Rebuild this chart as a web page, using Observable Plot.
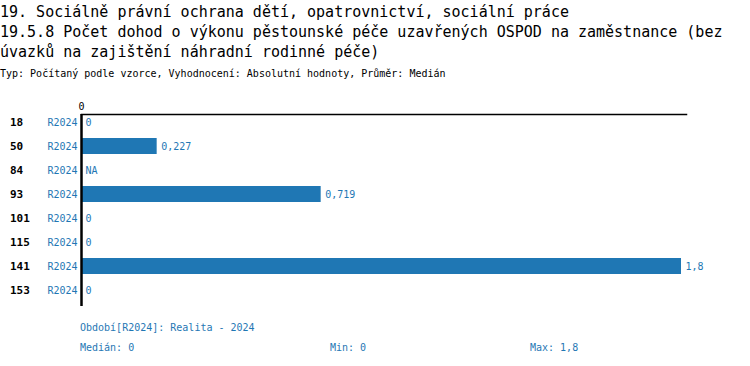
<!DOCTYPE html>
<html>
<head>
<meta charset="utf-8">
<script src="https://cdn.jsdelivr.net/npm/d3@7"></script>
<script src="https://cdn.jsdelivr.net/npm/@observablehq/plot@0.6"></script>
<style>
  body { margin: 0; background: #fff; font-family: "DejaVu Sans Mono", monospace; width: 750px; }
  #header { height: 84px; position: relative; }
  .t { font-size: 15px; line-height: 20px; color: #000; }
  #title { padding-top: 2px; }
  #sub { font-size: 10px; line-height: 14px; margin-top: 5px; color: #000; }
  #chart svg { display: block; overflow: visible; }
  #footer { padding-left: 80px; margin-top: 9px; font-size: 10px; line-height: 20px; color: #1f77b4; }
  #footer span { display: inline-block; }
</style>
</head>
<body>
<div id="header">
  <div id="title" class="t"></div>
  <div id="sub"></div>
</div>
<div id="chart"></div>
<div id="footer">
  <div id="period"></div>
  <div><span id="med" style="width:250px"></span><span id="min" style="width:200px"></span><span id="max"></span></div>
</div>
<script>
const titleLines = [
  "19. Sociálně právní ochrana dětí, opatrovnictví, sociální práce",
  "19.5.8 Počet dohod o výkonu pěstounské péče uzavřených OSPOD na zaměstnance (bez úvazků na zajištění náhradní rodinné péče)"
];
const subtitle = "Typ: Počítaný podle vzorce, Vyhodnocení: Absolutní hodnoty, Průměr: Medián";
const categories = ["18", "50", "84", "93", "101", "115", "141", "153"];
const periodLabel = "R2024";
const values = [0, 0.227, null, 0.719, 0, 0, 1.8, 0];
const xTicks = [0];
const periodText = "Období[R2024]: Realita - 2024";
const statMedian = "Medián: 0";
const statMin = "Min: 0";
const statMax = "Max: 1,8";

document.getElementById("title").innerHTML = titleLines.map(s => `<div>${s}</div>`).join("");
document.getElementById("sub").textContent = subtitle;
document.getElementById("period").textContent = periodText;
document.getElementById("med").textContent = statMedian;
document.getElementById("min").textContent = statMin;
document.getElementById("max").textContent = statMax;

const data = categories.map((c, i) => ({cat: c, period: periodLabel, value: values[i]}));
const fmt = v => v == null ? "NA" : String(v).replace(".", ",");
const blue = "#1f77b4";

const chart = Plot.plot({
  width: 750,
  height: 225,
  marginTop: 30,
  marginBottom: 3,
  marginLeft: 81,
  marginRight: 64,
  style: {fontFamily: "DejaVu Sans Mono, monospace", fontSize: "10px", background: "white"},
  x: {domain: [0, 1.815], axis: null, label: null},
  y: {domain: categories, axis: null, paddingInner: 0.35, paddingOuter: 0.175, insetTop: -4.3, insetBottom: 4.3},
  marks: [
    Plot.barX(data, {x: "value", y: "cat", fill: blue}),
    Plot.frame({anchor: "top", stroke: "#000", strokeWidth: 1.5}),
    Plot.ruleX(xTicks, {stroke: "#000", strokeWidth: 2.5}),
    Plot.axisX(xTicks, {anchor: "top", tickSize: 0, tickPadding: 5, fontSize: 10, fill: "#000", label: null, tickFormat: d => fmt(d)}),
    Plot.text(data, {x: d => d.value ?? 0, y: "cat", text: d => fmt(d.value), dx: 4, textAnchor: "start", fill: blue, fontSize: 10}),
    Plot.text(data, {y: "cat", text: "period", frameAnchor: "left", textAnchor: "end", dx: -4, fill: blue, fontSize: 10}),
    Plot.text(data, {y: "cat", text: "cat", frameAnchor: "left", textAnchor: "start", dx: -71.5, fill: "#000", fontSize: 11, fontWeight: "bold"})
  ]
});
document.getElementById("chart").appendChild(chart);
</script>
</body>
</html>
